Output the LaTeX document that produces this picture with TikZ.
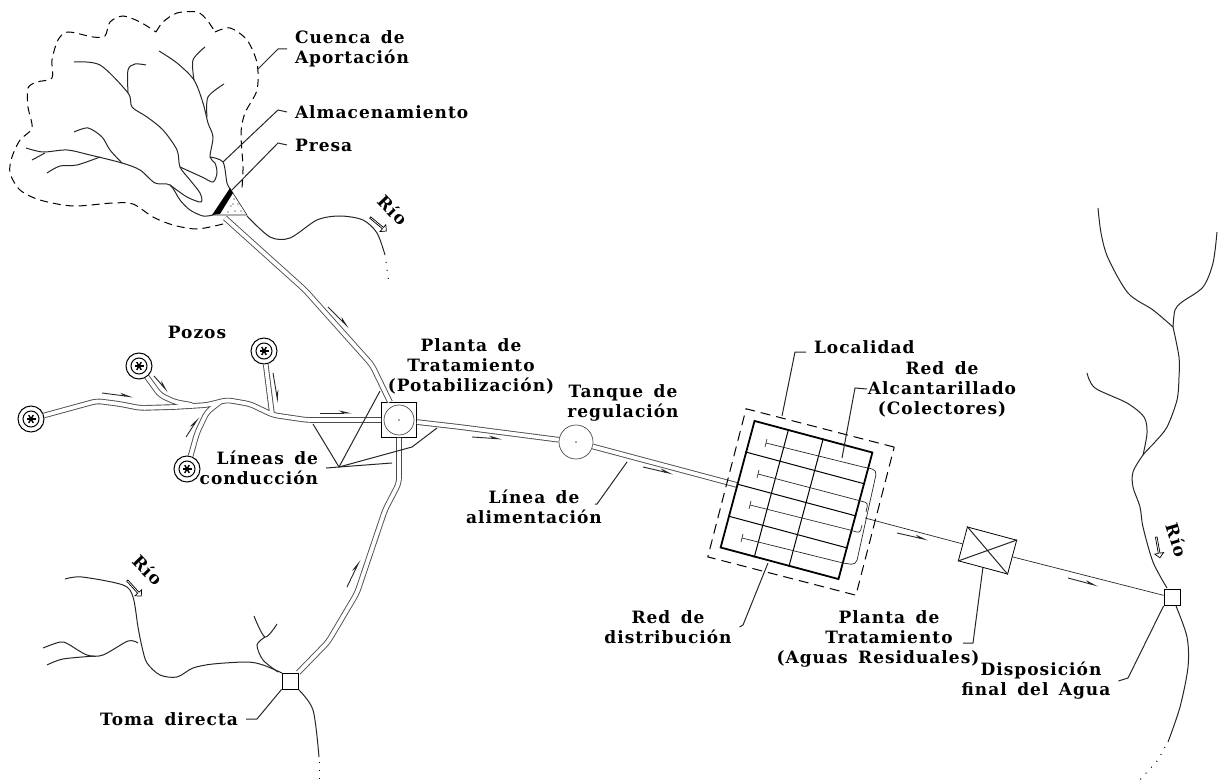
\documentclass[tikz,border=0pt]{standalone}
\usepackage{fontspec}
\setmainfont{DejaVu Serif}[WordSpace=1.5, LetterSpace=6]
\usetikzlibrary{arrows.meta, calc, positioning, shapes.arrows}

\tikzset{
    etiqueta/.style={inner sep=0pt, outer sep=8pt, font=\fontsize{17}{20}\selectfont\bfseries},
    rio/.style={line width=1pt, black!85, smooth, tension=.5},
    cuenca/.style={line width=1pt, dash pattern=on 8pt off 5pt, smooth, tension=.5},
    puntos/.style={line width=1pt, dash pattern=on 1pt off 7pt},
    guia/.style={line width=1pt, black!85},
    flujo/.style={line width=.9pt, black!85, -{Stealth[harpoon, length=11pt, width=5pt]}},
    tuboa/.style={line width=5.6pt, black!70, rounded corners=5pt},
    tubob/.style={line width=3.8pt, white, rounded corners=5pt},
    caja/.style={draw, rectangle, inner sep=0pt, fill=white, line width=.8pt},
    punto/.style={path picture={\fill (path picture bounding box.center) circle (.9pt);}},
    tanque/.style={draw, circle, inner sep=0pt, black!70, line width=.7pt, punto},
    pozo/.style={draw, circle, inner sep=0pt, fill=white, minimum size=26pt, line width=1pt,
        path picture={
            \draw[line width=1pt] (path picture bounding box.center) circle (8pt);
            \foreach \ang in {0, 60, 120}
                \draw[line width=1.4pt] (path picture bounding box.center) ++(\ang:4.5pt) -- ++(\ang+180:9pt);
        }},
    flecha/.style={draw, single arrow, inner sep=0pt, minimum height=21pt, minimum width=9pt,
        single arrow head extend=1.5pt, line width=.7pt, fill=white},
}

\begin{document}
\begin{tikzpicture}[x=1pt, y=-1pt]
    \useasboundingbox (0, 0) rectangle (1220, 783);

    % Draw the basin and its streams
    \draw[cuenca] plot coordinates {(223,224) (197,229) (173,225) (153,217) (133,204) (113,203) (73,206)
        (40,200) (20,190) (10,173) (12,157) (20,140) (32,128) (28,107) (28,88) (37,82) (52,78) (52,60)
        (58,40) (68,32) (93,37) (105,36) (110,22) (123,16) (140,22) (156,32)};
    \draw[cuenca] plot coordinates {(156,32) (163,22) (177,13) (197,12) (207,20) (215,32)};
    \draw[cuenca] plot coordinates {(215,32) (230,28) (247,40) (257,63) (257,90) (245,113) (241,133) (243,167) (242,188)};
    \draw[rio] plot coordinates {(74,62) (100,65) (128,93) (132,107) (147,117) (163,130) (177,150) (180,167)
        (190,180) (200,193) (201,202) (187,197) (170,185)};
    \draw[rio] plot coordinates {(26,148) (43,152) (67,150) (90,155) (122,163) (140,170) (155,183) (170,185)
        (180,200) (190,210) (203,216) (213,215)};
    \draw[rio] plot coordinates {(32,160) (45,153)};
    \draw[rio] plot coordinates {(47,173) (60,166) (77,165) (100,157)};
    \draw[rio] plot coordinates {(74,132) (88,128) (102,137) (110,150) (122,163)};
    \draw[rio] plot coordinates {(128,93) (128,70) (135,64) (146,65)};
    \draw[rio] plot coordinates {(159,51) (177,63) (194,80) (203,103) (208,123) (213,137) (210,157) (215,163)
        (217,173) (213,182) (202,177) (180,167)};
    \draw[rio] plot coordinates {(194,80) (193,60) (205,47)};
    \draw[rio] plot coordinates {(207,117) (208,97) (224,84)};
    \draw[rio] plot coordinates {(210,157) (223,162) (227,183) (231,190)};
    \draw[rio] plot coordinates {(247,216) (270,237) (290,238) (317,220) (340,216) (363,220) (377,233) (385,255)};
    \draw[puntos] (386,262) -- (389,284);

    % Draw the dam
    \draw[guia, line width=.6pt] (231,190) -- (247,215) -- (212,215);
    \fill (230,188) -- (233,193) -- (220,214) -- (212,215) -- cycle;
    \foreach \xa/\ya in {234/199, 238/204, 231/206, 241/211, 235/211, 228/212, 233/204}
        \fill (\xa,\ya) circle (.7pt);

    % Draw the other rivers
    \draw[rio] plot coordinates {(65,579) (82,577) (123,585) (133,597) (138,627) (142,647) (147,663) (160,675)
        (177,677) (193,668) (213,664) (247,662) (263,665) (282,673)};
    \draw[rio] plot coordinates {(43,648) (60,642) (68,644) (87,655) (103,655) (128,641) (138,643)};
    \draw[rio] plot coordinates {(47,665) (63,659) (95,656)};
    \draw[rio] plot coordinates {(254,616) (265,637) (277,624)};
    \draw[rio] plot coordinates {(265,637) (257,645) (263,660) (278,672)};
    \draw[rio] plot coordinates {(298,689) (313,710) (319,757)};
    \draw[puntos] (319,762) -- (319,783);
    \draw[rio] plot coordinates {(1098,208) (1101,233) (1108,258) (1128,293) (1153,310) (1173,327)};
    \draw[rio] plot coordinates {(1217,232) (1213,263) (1203,287) (1182,302) (1175,310) (1173,327)};
    \draw[rio] plot coordinates {(1173,327) (1179,357) (1179,377) (1177,400) (1167,427) (1155,442) (1143,455)
        (1133,472) (1133,487) (1140,507) (1143,527) (1153,562) (1167,588)};
    \draw[rio] plot coordinates {(1087,373) (1095,388) (1127,403) (1144,417) (1147,433) (1143,455)};
    \draw[rio] plot coordinates {(1176,606) (1187,637) (1188,667) (1180,707) (1168,742)};
    \draw[puntos] (1165,747) -- (1158,760) -- (1137,783);

    % Draw the works
    \node[pozo] at (31, 419)   (pozoa) {};
    \node[pozo] at (139, 366)  (pozob) {};
    \node[pozo] at (264, 351)  (pozoc) {};
    \node[pozo] at (187, 469)  (pozod) {};
    \node[caja, minimum size=35pt] at (399, 420)        (planta) {};
    \node[tanque, minimum size=30pt] at (399, 420)      (filtro) {};
    \node[tanque, minimum size=34pt] at (576, 442)      (regula) {};
    \node[caja, minimum size=16pt] at (290, 681)        (toma) {};
    \node[caja, minimum size=16pt] at (1172, 597.5)     (vertido) {};
    \node[caja, rotate=-15, minimum width=51pt, minimum height=35pt] at (987.5, 550.5) (plantar) {};
    \draw[guia] (plantar.north west) -- (plantar.south east)
                (plantar.north east) -- (plantar.south west);
    \coordinate (salida) at (865, 518);
    \coordinate (presab) at (225, 218);
    \coordinate (entra)  at (390, 402);
    \coordinate (acaba)  at (737, 485);

    % Draw the pipes in two passes
    \def\tubos{
        (pozoa) -- (97,401) -- (120,404) -- (140,408) -- (175,407) -- (207,405) -- (227,400) -- (250,404)
            -- (273,415) -- (307,420) -- (planta)
        (pozob) -- (160,395) -- (175,402) -- (192,405)
        (pozoc) -- (272,414)
        (pozod) -- (197,433) -- (207,412) -- (220,402)
        (presab) -- (305,290) -- (372,365) -- (entra)
        (planta) -- (460,427) -- (regula)
        (regula) -- (acaba)
        (planta.south) -- (399,483) -- (385,510) -- (357,593) -- (328,642) -- (toma)}
    \draw[tuboa] \tubos;
    \draw[tubob] \tubos;
    \draw[guia, line width=.7pt] (salida) -- (plantar);
    \draw[guia, line width=.7pt] (plantar) -- (vertido);

    % Draw the town
    \node[draw, rotate=-14.5, minimum size=153pt, inner sep=0pt, line width=1pt, dash pattern=on 10pt off 6pt] at (801, 502) (limite) {};
    \node[draw, rotate=-15, minimum width=122pt, minimum height=131pt, inner sep=0pt, line width=1.8pt] at (796.5, 500) (localidad) {};
    \foreach \t in {.25, .5, .75}
        \draw[line width=1pt] ($(localidad.north west)!\t!(localidad.south west)$) -- ($(localidad.north east)!\t!(localidad.south east)$);
    \foreach \t in {.29, .58}
        \draw[line width=1pt] ($(localidad.north west)!\t!(localidad.north east)$) -- ($(localidad.south west)!\t!(localidad.south east)$);
    \foreach \xa/\ya/\xb/\yb in {766/443/863/467, 758/474/857/500, 750/505/850/530, 742/538/843/563} {
        \draw[guia, line width=.7pt] (\xa,\ya) -- (\xb,\yb);
        \draw[guia, line width=.7pt] (\xa+1,\ya-4) -- (\xa-1,\ya+4);
    }
    \draw[guia, line width=.7pt, rounded corners=5pt] (863,467) -- (877,470) -- (856,565) -- (843,563);
    \draw[guia, line width=.7pt, rounded corners=3pt] (857,500) -- (868,503) -- (866,512);
    \draw[guia, line width=.7pt, rounded corners=3pt] (850,530) -- (860,533) -- (862,525);

    % Draw the flow arrows
    \foreach \i/\xa/\ya/\xb/\yb in {1/102/393/133/397, 2/154/376/168/392, 3/273/373/278/403, 4/186/437/199/417,
        5/320/413/352/413, 6/328/307/349/328, 7/472/437/502/439, 8/643/467/673/474, 9/897/533/928/540,
        10/1068/578/1098/586, 11/347/587/360/560} {
        \coordinate (fa\i) at (\xa,\ya);
        \coordinate (fb\i) at (\xb,\yb);
        \draw[flujo] (fa\i) -- (fb\i);
    }
    \node[flecha, rotate=-40] at (378, 224)  (flechaa) {};
    \node[flecha, rotate=-48] at (134, 588)  (flechab) {};
    \node[flecha, rotate=-80] at (1158, 547) (flechac) {};

    % Draw the labels
    \node[etiqueta, anchor=west, align=left] at (287, 49)    (cuencat) {Cuenca de\\Aportación};
    \node[etiqueta, anchor=west] at (287, 112)               (almacen) {Almacenamiento};
    \node[etiqueta, anchor=west] at (287, 145)               (presat) {Presa};
    \node[etiqueta] at (197, 332)                            (pozos) {Pozos};
    \node[etiqueta, align=center] at (471, 366)              (potable) {Planta de\\Tratamiento\\(Potabilización)};
    \node[etiqueta, align=center] at (623, 403)              (regulat) {Tanque de\\regulación};
    \node[etiqueta, anchor=west] at (806, 347)               (localt) {Localidad};
    \node[etiqueta, align=center] at (942, 389)              (alcant) {Red de\\Alcantarillado\\(Colectores)};
    \node[etiqueta, align=center] at (668, 627)              (distrib) {Red de\\distribución};
    \node[etiqueta, align=center] at (534, 507)              (aliment) {Línea de\\alimentación};
    \node[etiqueta, align=center] at (878, 639)              (residual) {\hspace*{22pt}Planta de\\\hspace*{22pt}Tratamiento\\(Aguas Residuales)};
    \node[etiqueta, align=center] at (1036, 681)             (final) {\hspace*{10pt}Disposición\\final del Agua};
    \node[etiqueta, anchor=east] at (246, 719)               (tomat) {Toma directa};
    \node[etiqueta, anchor=east, align=right] at (326, 468)  (lineas) {Líneas de\\conducción};
    \node[etiqueta, rotate=-46] at (393, 210)                (rioa) {Río};
    \node[etiqueta, rotate=-46] at (148, 570)                (riob) {Río};
    \node[etiqueta, rotate=-73] at (1177, 540)               (rioc) {Río};

    % Connect the labels with their works
    \coordinate (bordea)  at (258, 69);
    \coordinate (embalse) at (223, 162);
    \coordinate (cortina) at (232, 190);
    \coordinate (cruce)   at (339, 467);
    \coordinate (limiten) at (782, 416);
    \coordinate (colect)  at (842, 458);
    \coordinate (tramo)   at (627, 462);
    \coordinate (reda)    at (768, 563);
    \coordinate (plantab) at (963, 643);
    \draw[guia] (cuencat.west) -- (278, 49) -- (bordea);
    \draw[guia] (almacen.west) -- (278, 110) -- (embalse);
    \draw[guia] (presat.west)  -- (278, 143) -- (cortina);
    \draw[guia] (tomat.east)   -- (257, 719) -- (toma.south west);
    \draw[guia] ([yshift=-5pt]localt.west) -- (795, 352) -- (limiten);
    \draw[guia] ([xshift=7pt]alcant.west)  -- (855, 388) -- (colect);
    \draw[guia] ([xshift=-15pt, yshift=3pt]aliment.east) -- (597, 504) -- (tramo);
    \draw[guia] (distrib.east) -- (743, 625) -- (reda);
    \draw[guia] (plantab) -- (973, 643) -- (plantar.south);
    \draw[guia] (final.east)   -- (1128, 678) -- (vertido.south west);
    \draw[guia] (lineas.east)  -- (cruce)
        (cruce) edge (313, 424)
        (cruce) edge (380, 391)
        (cruce) edge (392, 463)
        (cruce) -- (412, 447) -- (437, 428);
\end{tikzpicture}
\end{document}
